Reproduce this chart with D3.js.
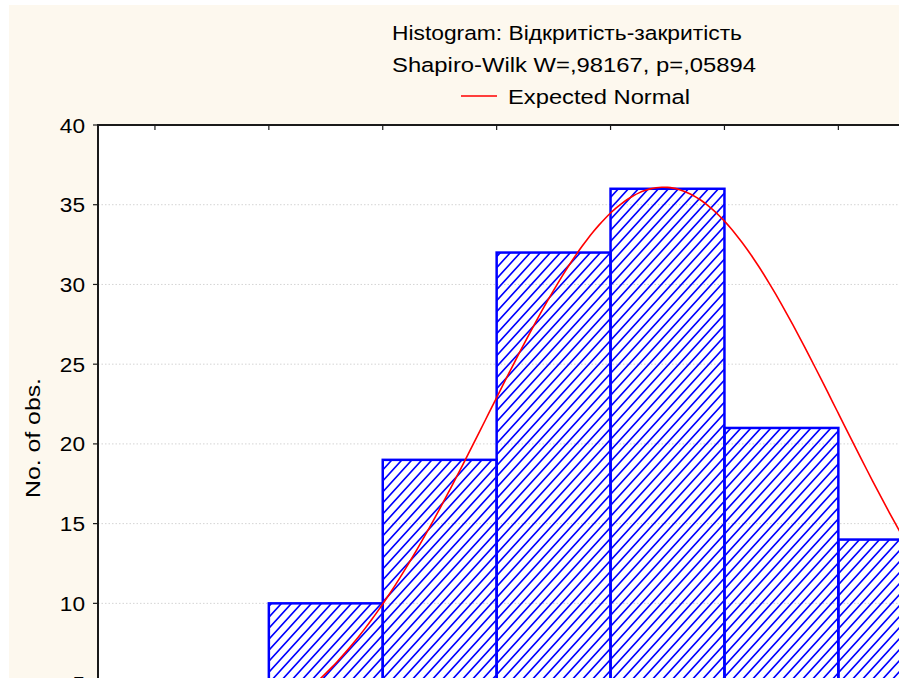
<!DOCTYPE html>
<html>
<head>
<meta charset="utf-8">
<script src="https://cdn.jsdelivr.net/npm/d3@7"></script>
<style>
  html, body { margin: 0; padding: 0; background: #ffffff; overflow: hidden; }
  svg { display: block; font-family: "Liberation Sans", Arial, sans-serif; }
</style>
</head>
<body>
<svg id="chart" width="899" height="678"></svg>
<script>
// ---- data ----
const titleLines = ["Histogram: Відкритість-закритість", "Shapiro-Wilk W=,98167, p=,05894"];
const legendLabel = "Expected Normal";
const yLabel = "No. of obs.";
const binStarts = [1, 2, 3, 4, 5, 6];          // bin index (left edge)
const binCounts = [10, 19, 32, 36, 21, 14];     // observations per bin
const yTicks = [5, 10, 15, 20, 25, 30, 35, 40];
const xTickEdges = [0, 1, 2, 3, 4, 5, 6];
const normalMean = 4.465;   // in bin units
const normalSd = 1.536;
const normalN = 139;

// ---- layout ----
const svg = d3.select("#chart");
const W = 899, H = 678;
const plotLeft = 98, plotTop = 125;

svg.append("rect").attr("x", 9).attr("y", 5).attr("width", W - 9).attr("height", H - 5)
  .attr("fill", "#fdf8ee");

const x = d3.scaleLinear().domain([-0.5, 6.5]).range([plotLeft, plotLeft + 7 * 113.9]);
const y = d3.scaleLinear().domain([0, 40]).range([762.8, plotTop]);

// plot background
svg.append("rect").attr("x", plotLeft).attr("y", plotTop)
  .attr("width", W - plotLeft + 20).attr("height", H - plotTop + 20).attr("fill", "#ffffff");

// hatch pattern
const defs = svg.append("defs");
const pat = defs.append("pattern").attr("id", "hatch").attr("patternUnits", "userSpaceOnUse")
  .attr("width", 10).attr("height", 11);
pat.append("path").attr("d", "M-1,12.1 L11,-1.1 M-11,12.1 L1,-1.1 M9,12.1 L21,-1.1")
  .attr("stroke", "#0000ff").attr("stroke-width", 1.6).attr("fill", "none");

// gridlines
svg.append("g").selectAll("line").data(yTicks.filter(t => t < 40)).join("line")
  .attr("x1", plotLeft).attr("x2", W).attr("y1", d => y(d)).attr("y2", d => y(d))
  .attr("stroke", "#d4d4d4").attr("stroke-width", 1).attr("stroke-dasharray", "1.5,2");

// bars
const bars = svg.append("g");
binStarts.forEach((b, i) => {
  const x0 = x(b), x1 = x(b + 1), yt = y(binCounts[i]);
  bars.append("rect").attr("x", x0).attr("y", yt).attr("width", x1 - x0).attr("height", y(0) - yt)
    .attr("fill", "url(#hatch)").attr("stroke", "#0000ff").attr("stroke-width", 2.5);
});

// expected normal curve
const pdf = v => normalN / (normalSd * Math.sqrt(2 * Math.PI)) * Math.exp(-((v - normalMean) ** 2) / (2 * normalSd * normalSd));
const curveXs = d3.range(-0.5, 7.01, 0.05);
svg.append("path").datum(curveXs)
  .attr("d", d3.line().x(d => x(d)).y(d => y(pdf(d))).curve(d3.curveBasis))
  .attr("fill", "none").attr("stroke", "#ff0000").attr("stroke-width", 1.6);

// axes
svg.append("line").attr("x1", plotLeft).attr("x2", plotLeft).attr("y1", plotTop - 1).attr("y2", H)
  .attr("stroke", "#1a1a1a").attr("stroke-width", 2);
svg.append("line").attr("x1", plotLeft - 1).attr("x2", W).attr("y1", plotTop).attr("y2", plotTop)
  .attr("stroke", "#1a1a1a").attr("stroke-width", 2);

// y ticks + labels
const yAxis = svg.append("g");
yAxis.selectAll("line").data(yTicks).join("line")
  .attr("x1", plotLeft - 5).attr("x2", plotLeft).attr("y1", d => y(d)).attr("y2", d => y(d))
  .attr("stroke", "#1a1a1a").attr("stroke-width", 1.2);
yAxis.selectAll("text").data(yTicks).join("text")
  .attr("transform", d => `translate(85,${y(d) + 7.5}) scale(1.08,1)`)
  .attr("text-anchor", "end").attr("font-size", 21).attr("fill", "#000")
  .text(d => d);

// top ticks (inward)
svg.append("g").selectAll("line").data(xTickEdges).join("line")
  .attr("x1", d => x(d)).attr("x2", d => x(d)).attr("y1", plotTop).attr("y2", plotTop + 5)
  .attr("stroke", "#1a1a1a").attr("stroke-width", 1.2);

// y label
svg.append("text")
  .attr("transform", "translate(40,438) rotate(-90)")
  .attr("text-anchor", "middle").attr("font-size", 21).attr("fill", "#000")
  .attr("textLength", 120).attr("lengthAdjust", "spacingAndGlyphs")
  .text(yLabel);

// titles
svg.append("text").attr("x", 392).attr("y", 40).attr("font-size", 20.5)
  .attr("textLength", 350).attr("lengthAdjust", "spacingAndGlyphs").text(titleLines[0]);
svg.append("text").attr("x", 392).attr("y", 71.5).attr("font-size", 20.5)
  .attr("textLength", 364).attr("lengthAdjust", "spacingAndGlyphs").text(titleLines[1]);

// legend
svg.append("line").attr("x1", 461).attr("x2", 497).attr("y1", 96).attr("y2", 96)
  .attr("stroke", "#ff0000").attr("stroke-width", 1.6);
svg.append("text").attr("x", 508).attr("y", 103.5).attr("font-size", 20.5)
  .attr("textLength", 182).attr("lengthAdjust", "spacingAndGlyphs").text(legendLabel);
</script>
</body>
</html>
